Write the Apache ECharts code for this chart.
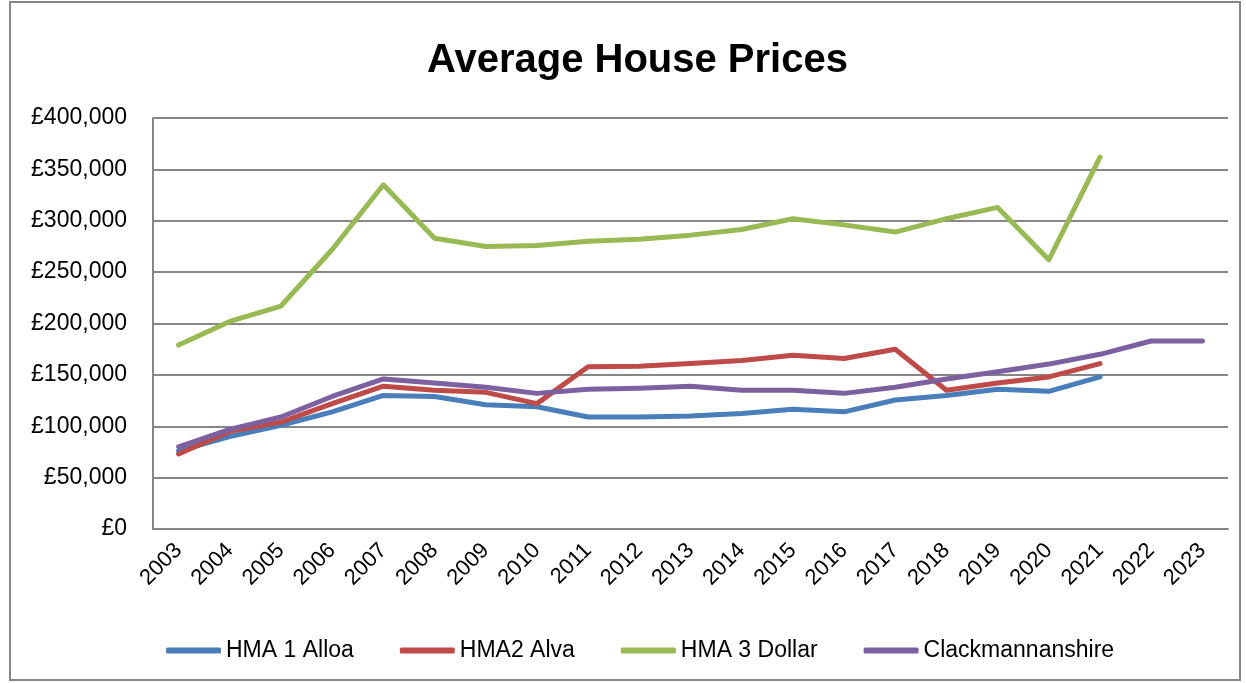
<!DOCTYPE html>
<html>
<head>
<meta charset="utf-8">
<script src="https://cdn.jsdelivr.net/npm/echarts@6/dist/echarts.min.js"></script>
<style>
  html, body { margin: 0; padding: 0; background: #fff; }
  #main { width: 1246px; height: 683px; }
</style>
</head>
<body>
<div id="main"></div>
<script>
// years on the x axis
var years = ['2003', '2004', '2005', '2006', '2007', '2008', '2009', '2010', '2011', '2012',
  '2013', '2014', '2015', '2016', '2017', '2018', '2019', '2020', '2021', '2022', '2023']

// average prices
var alloa = [76000, 90000, 101000, 114000, 130000, 129000, 121000, 119000, 109000, 109000,
  110000, 112500, 116500, 114000, 125500, 130000, 136000, 134000, 148000, null, null]
var alva = [73000, 95000, 104000, 122000, 139000, 135000, 133000, 122000, 158000, 158500,
  161000, 164000, 169000, 166000, 175000, 135000, 142000, 148000, 161000, null, null]
var dollar = [179000, 202000, 217000, 272000, 335000, 283000, 275000, 276000, 280000, 282000,
  286000, 291500, 302000, 296000, 289000, 302000, 313000, 262000, 362000, null, null]
var clacks = [80000, 97000, 109000, 129000, 146000, 142000, 138000, 132000, 136000, 137000,
  139000, 135000, 135000, 132000, 138000, 146000, 153000, 160500, 170000, 183000, 183000]

var seriesNames = ['HMA 1 Alloa', 'HMA2 Alva', 'HMA 3 Dollar', 'Clackmannanshire']
var colors = ['#4A7EBB', '#BE4B48', '#98B954', '#7D60A0']

var chart = echarts.init(document.getElementById('main'))

function makeLine (name, data) {
  return {
    name: name,
    type: 'line',
    data: data,
    symbol: 'none',
    lineStyle: { width: 5, cap: 'round', join: 'round' },
    connectNulls: false
  }
}

chart.setOption({
  color: colors,
  animation: false,
  textStyle: { fontFamily: 'Liberation Sans' },
  title: {
    text: 'Average House Prices',
    left: 422,
    top: 36,
    textStyle: { fontSize: 40, fontWeight: 'bold', color: '#000', fontFamily: 'Liberation Sans' }
  },
  graphic: [{
    type: 'rect',
    shape: { x: 10, y: 2, width: 1230, height: 678 },
    style: { fill: 'none', stroke: '#868686', lineWidth: 2 },
    silent: true
  }],
  grid: { left: 153, right: 18, top: 118, bottom: 154 },
  legend: {
    top: 634,
    left: 161,
    icon: 'roundRect',
    itemWidth: 55,
    itemHeight: 6,
    itemGap: 46,
    textStyle: { fontSize: 23, color: '#000' },
    data: seriesNames
  },
  xAxis: {
    type: 'category',
    data: years,
    boundaryGap: true,
    axisLine: { lineStyle: { color: '#868686', width: 2 } },
    axisTick: { show: false },
    axisLabel: { rotate: 45, fontSize: 22, color: '#000', margin: 18 }
  },
  yAxis: {
    type: 'value',
    min: 0,
    max: 400000,
    interval: 50000,
    axisLine: { show: true, lineStyle: { color: '#868686', width: 2 } },
    axisTick: { show: false },
    splitLine: { lineStyle: { color: '#868686', width: 2 } },
    axisLabel: {
      fontSize: 23,
      color: '#000',
      margin: 26,
      formatter: function (v) { return '£' + v.toLocaleString('en-GB') }
    }
  },
  series: [
    makeLine(seriesNames[0], alloa),
    makeLine(seriesNames[1], alva),
    makeLine(seriesNames[2], dollar),
    makeLine(seriesNames[3], clacks)
  ]
})
</script>
</body>
</html>
